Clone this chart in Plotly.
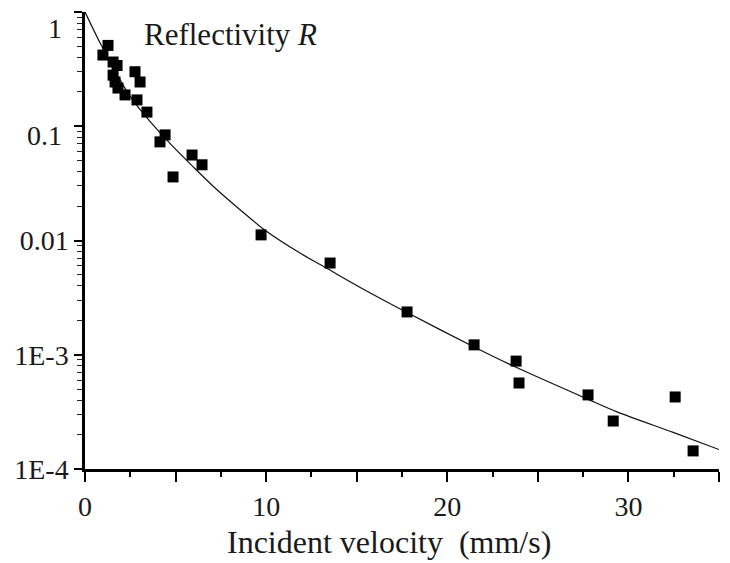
import plotly.graph_objects as go

# Measured data points (incident velocity mm/s, reflectivity R)
velocity = [1.27, 0.99, 1.55, 1.77, 1.55, 1.66, 1.82, 2.21, 2.76, 3.04, 2.87, 3.42,
            4.42, 4.14, 5.91, 6.46, 4.86, 9.72, 13.53, 17.78, 21.48, 23.80, 23.96,
            27.77, 29.16, 32.58, 33.57]
reflectivity = [0.51, 0.42, 0.365, 0.34, 0.28, 0.244, 0.216, 0.188, 0.30, 0.244, 0.17, 0.133,
                0.084, 0.073, 0.056, 0.046, 0.036, 0.0112, 0.00635, 0.00237, 0.00122, 0.00088, 0.000566,
                0.000445, 0.000263, 0.000427, 0.000144]

# Fitted curve
curve_v = [0, 0.83, 1.66, 2.5, 3.6, 4.69, 6.0, 7.18, 8.56, 9.94, 11.87, 13.42, 15.07, 17.78,
           21.48, 23.8, 27.77, 29.37, 32.47, 35]
curve_r = [1.0, 0.537, 0.302, 0.182, 0.1096, 0.0708, 0.0437, 0.0288, 0.0186, 0.0123, 0.00776, 0.00562,
           0.00398, 0.00234, 0.00117, 0.000776, 0.000407, 0.000316, 0.000209, 0.000148]

x_tickvals = [0, 5, 10, 15, 20, 25, 30, 35]
x_ticktext = ["0", "", "10", "", "20", "", "30", ""]
y_tickvals = [1, 0.1, 0.01, 0.001, 0.0001]
y_ticktext = ["", "", "0.01", "1E-3", "1E-4"]

FONT = "Liberation Serif, Times New Roman, serif"
TXT = "#1a1a1a"

fig = go.Figure()
fig.add_trace(go.Scatter(x=curve_v, y=curve_r, mode="lines",
                         line=dict(color="#111", width=1.2, shape="spline", smoothing=0.8),
                         hoverinfo="skip", cliponaxis=False))
fig.add_trace(go.Scatter(x=velocity, y=reflectivity, mode="markers",
                         marker=dict(symbol="square", size=11, color="black", line=dict(width=0)),
                         cliponaxis=False))

plot_w = 730 - 85 - 11
plot_h = 563 - 12 - 94

fig.update_layout(
    width=730, height=563,
    margin=dict(l=85, r=11, t=12, b=94),
    paper_bgcolor="white", plot_bgcolor="white",
    showlegend=False,
    font=dict(family=FONT, color=TXT),
    xaxis=dict(range=[0, 35], showgrid=False, zeroline=False, automargin=False,
               showline=True, linecolor="black", linewidth=3,
               tickmode="array", tickvals=x_tickvals, ticktext=x_ticktext,
               ticks="outside", ticklen=10, tickwidth=1.5, tickcolor="black",
               tickfont=dict(size=28, family=FONT, color=TXT),
               minor=dict(dtick=2.5, tick0=0, ticks="outside", ticklen=5, tickwidth=1.5,
                          tickcolor="black", showgrid=False)),
    yaxis=dict(type="log", range=[-4, 0], showgrid=False, zeroline=False, automargin=False,
               showline=True, linecolor="black", linewidth=2.5,
               tickmode="array", tickvals=y_tickvals, ticktext=y_ticktext,
               ticks="outside", ticklen=8, tickwidth=2, tickcolor="black",
               ticklabeloverflow="allow",
               tickfont=dict(size=28, family=FONT, color=TXT),
               minor=dict(dtick="D1", ticks="outside", ticklen=5, tickwidth=1.3,
                          tickcolor="#222", showgrid=False)),
    annotations=[
        dict(text="Incident velocity\u00a0 (mm/s)", x=16.8, xref="x",
             y=-(542 - 469) / plot_h, yref="paper",
             xanchor="center", yanchor="middle", showarrow=False,
             font=dict(size=32, family=FONT, color=TXT)),
        dict(text="Reflectivity <i>R</i>", x=(142 - 85) / plot_w, xref="paper",
             y=1 - (34 - 12) / plot_h, yref="paper", xanchor="left", yanchor="middle",
             showarrow=False, font=dict(size=31, family=FONT, color=TXT)),
        # tick labels of the top two decades sit a little below their ticks in the original
        # (annotation y on a log axis is given as log10 of the value)
        dict(text="1", x=(64 - 85) / plot_w, xref="paper", y=0, yref="y", yshift=-16,
             xanchor="right", yanchor="middle", showarrow=False,
             font=dict(size=28, family=FONT, color=TXT)),
        dict(text="0.1", x=(64 - 85) / plot_w, xref="paper", y=-1, yref="y", yshift=-9,
             xanchor="right", yanchor="middle", showarrow=False,
             font=dict(size=28, family=FONT, color=TXT)),
    ],
)

fig.write_html("out.html")
